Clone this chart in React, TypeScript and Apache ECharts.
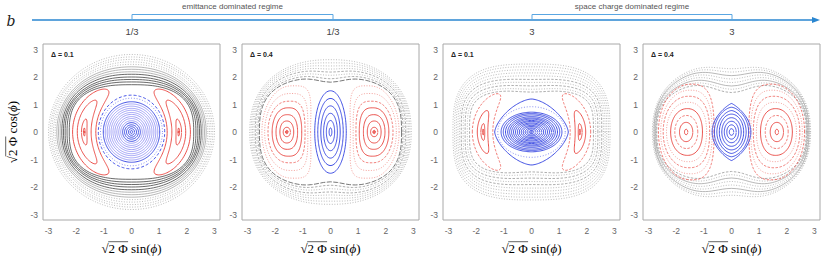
import React, { useEffect, useRef } from 'react';
import * as echarts from 'echarts';

// ---------- labels ----------
const PANEL_DELTA = ['Δ = 0.1', 'Δ = 0.4', 'Δ = 0.1', 'Δ = 0.4'];
const REGIME_LABELS = ['emittance dominated regime', 'space charge dominated regime'];
const REGIME_VALUES = ['1/3', '1/3', '3', '3'];
const X_TITLE = ['√', '2 Φ', ' sin(', 'ϕ', ')'];
const Y_TITLE = ['√', '2 Φ', ' cos(', 'ϕ', ')'];

// ---------- panel 1 (Δ=0.1, 1/3) ----------
const P1_RING_SIDE = [3.0, 2.94, 2.88, 2.82, 2.76, 2.7, 2.64, 2.58, 2.52, 2.46, 2.4, 2.33, 2.25];
const P1_RING_TOP = [2.82, 2.73, 2.64, 2.55, 2.46, 2.37, 2.28, 2.19, 2.1, 2.0, 1.91, 1.82, 1.72];
const P1_RING_SQ = [2.0, 2.0, 2.05, 2.05, 2.1, 2.1, 2.15, 2.2, 2.25, 2.3, 2.4, 2.5, 2.7];
const P1_RING_STYLE = ['kdot', 'kdot', 'kdot', 'kdot', 'kdot', 'klight', 'klight', 'klight', 'ksolid', 'ksolid', 'ksolid', 'ksolid', 'ksolid'];
const P1_BLUE_SIDE = [1.2, 1.12, 1.02, 0.95, 0.88, 0.81, 0.74, 0.67, 0.6, 0.53, 0.46, 0.39, 0.32, 0.25, 0.18, 0.11, 0.05];
const P1_BLUE_TOP = [1.34, 1.23, 1.1, 1.02, 0.94, 0.86, 0.79, 0.71, 0.64, 0.56, 0.49, 0.41, 0.34, 0.26, 0.19, 0.12, 0.05];
const P1_BLUE_STYLE = ['bdash', 'bdot', 'bsolid', 'blight', 'blight', 'blight', 'blight', 'blight', 'blight', 'blight', 'blight', 'blight', 'bsolid', 'bsolid', 'bsolid', 'bsolid', 'bsolid'];
const P1_CRES_RC = [1.71, 1.71, 1.71, 1.71];
const P1_CRES_DR = [0.42, 0.25, 0.1, 0.03];
const P1_CRES_ALPHA = [61, 42, 16, 5];
const P1_CRES_STYLE = ['rsolid', 'rsolid', 'rsolid', 'rsolid'];

// ---------- panel 2 (Δ=0.4, 1/3) ----------
const P2_RING_SIDE = [2.92, 2.87, 2.82, 2.77, 2.72, 2.67, 2.62, 2.57];
const P2_RING_TOP = [2.63, 2.54, 2.45, 2.36, 2.27, 2.17, 2.08, 1.99];
const P2_RING_DIP = [0.0, 0.01, 0.02, 0.03, 0.04, 0.05, 0.07, 0.09];
const P2_RING_STYLE = ['kdot', 'kdot', 'kdot', 'kdot', 'kdash', 'kdot', 'kdash', 'kdark'];
const P2_ISL_IN = [1.53, 1.45, 1.33, 1.19, 1.04, 0.92, 0.82, 0.72];
const P2_ISL_OUT = [1.63, 1.71, 1.83, 1.97, 2.11, 2.26, 2.38, 2.48];
const P2_ISL_H = [0.06, 0.17, 0.4, 0.63, 0.88, 1.12, 1.4, 1.68];
const P2_ISL_SKEW = [0, 0, 0, 0.02, 0.06, 0.12, 0.2, 0.3];
const P2_ISL_STYLE = ['rsolid', 'rsolid', 'rsolid', 'rsolid', 'rsolid', 'rdash', 'rdot', 'rdot'];
const P2_BLUE_SIDE = [0.57, 0.46, 0.35, 0.25, 0.15, 0.05];
const P2_BLUE_TOP = [1.5, 1.22, 0.95, 0.68, 0.42, 0.15];

// ---------- panel 3 (Δ=0.1, 3) ----------
const P3_RING_SIDE = [2.84, 2.78, 2.72, 2.66, 2.6, 2.54, 2.47, 2.4, 2.32, 2.24];
const P3_RING_TOP = [2.47, 2.37, 2.26, 2.15, 2.04, 1.93, 1.82, 1.71, 1.6, 1.51];
const P3_RING_DIP = [0, 0, 0, 0, 0, 0.01, 0.01, 0.02, 0.03, 0.04];
const P3_RING_STYLE = ['kdot', 'kdot', 'kdot', 'kdot', 'kdot', 'kdash', 'kdot', 'kdash', 'kdot', 'kdash'];
const P3_CRES_RC = [1.77, 1.77, 1.76, 1.75];
const P3_CRES_DR = [0.37, 0.19, 0.07, 0.02];
const P3_CRES_ALPHA = [50, 26, 10, 4];
const P3_CRES_STYLE = ['rdash', 'rsolid', 'rsolid', 'rsolid'];
const P3_BLUE_SIDE = [1.33, 1.22, 1.1, 1.02, 0.94, 0.86, 0.79, 0.72, 0.65, 0.58, 0.51, 0.44, 0.37, 0.3, 0.23, 0.16, 0.09, 0.04];
const P3_BLUE_TOP = [1.2, 0.92, 0.72, 0.67, 0.62, 0.56, 0.51, 0.47, 0.42, 0.38, 0.33, 0.29, 0.24, 0.2, 0.15, 0.11, 0.06, 0.03];
const P3_BLUE_STYLE = ['bsolid', 'bdot', 'bsolid', 'bsolid', 'bsolid', 'bsolid', 'bsolid', 'bsolid', 'bsolid', 'bsolid', 'bsolid', 'bsolid', 'bsolid', 'bsolid', 'bsolid', 'bsolid', 'bsolid', 'bsolid'];

// ---------- panel 4 (Δ=0.4, 3) ----------
const P4_RING_SIDE = [2.86, 2.83, 2.8, 2.78, 2.76, 2.74, 2.72, 2.7];
const P4_RING_TOP = [2.5, 2.42, 2.33, 2.24, 2.14, 2.04, 1.94, 1.84];
const P4_RING_DIP = [0.08, 0.1, 0.12, 0.14, 0.16, 0.18, 0.2, 0.22];
const P4_RING_STYLE = ['kdot', 'kdot', 'klight', 'kdot', 'kdot', 'klight', 'kdot', 'kdash'];
const P4_ISL_IN = [1.58, 1.4, 1.22, 1.05, 0.9, 0.79, 0.7, 0.63];
const P4_ISL_OUT = [1.7, 1.88, 2.05, 2.2, 2.35, 2.47, 2.56, 2.64];
const P4_ISL_H = [0.1, 0.35, 0.6, 0.85, 1.08, 1.3, 1.52, 1.74];
const P4_ISL_SKEW = [0, 0, 0.01, 0.03, 0.06, 0.1, 0.15, 0.2];
const P4_ISL_STYLE = ['rsolid', 'rsolid', 'rdash', 'rsolid', 'rdot', 'rdash', 'rdot', 'rdash'];
const P4_BLUE_SIDE = [0.7, 0.62, 0.53, 0.44, 0.35, 0.26, 0.17, 0.08];
const P4_BLUE_TOP = [1.04, 0.9, 0.78, 0.65, 0.52, 0.39, 0.26, 0.12];

// ---------- geometry helpers ----------
const NPTS = 160;
function ring(sx: number, sy: number, nx: number, ny: number, dip: number, dipW: number, cx = 0, skew = 0): number[][] {
  const pts: number[][] = [];
  const side = cx >= 0 ? 1 : -1;
  for (let i = 0; i <= NPTS; i++) {
    const t = (2 * Math.PI * i) / NPTS;
    const c = Math.cos(t), s = Math.sin(t);
    const x = sx * Math.sign(c) * Math.pow(Math.abs(c), 2 / nx);
    const yb = sy * Math.sign(s) * Math.pow(Math.abs(s), 2 / ny);
    const y = yb * (1 - dip * Math.exp(-((x / dipW) ** 2)));
    pts.push([cx + x - side * skew * (yb / sy) ** 2, y]);
  }
  return pts;
}
function crescent(side: number, rc: number, dr: number, alphaDeg: number): number[][] {
  const a = (alphaDeg * Math.PI) / 180;
  const pts: number[][] = [];
  for (let i = 0; i <= NPTS; i++) {
    const t = (2 * Math.PI * i) / NPTS;
    const th = a * Math.sin(t);
    const r = rc + dr * Math.cos(t);
    pts.push([side * r * Math.cos(th), r * Math.sin(th)]);
  }
  return pts;
}

const STYLES: Record<string, any> = {
  kdot: { color: '#ababab', width: 0.8, type: [1, 1.6] },
  kdash: { color: '#999', width: 0.8, type: [2.5, 1.5] },
  kdark: { color: '#555', width: 0.8, type: [5, 1.5] },
  klight: { color: '#999', width: 0.7, type: 'solid' },
  ksolid: { color: '#444', width: 0.8, type: 'solid' },
  rsolid: { color: '#e8403a', width: 0.9, type: 'solid' },
  rdash: { color: '#ec5a54', width: 0.8, type: [2.5, 1.5] },
  rdot: { color: '#f08680', width: 0.8, type: [1, 1.6] },
  bsolid: { color: '#2e3ee0', width: 0.9, type: 'solid' },
  blight: { color: '#8c8cf4', width: 0.8, type: 'solid' },
  bdash: { color: '#3444e4', width: 0.9, type: [3, 2] },
  bdot: { color: '#6a72ee', width: 0.8, type: [1, 1.8] },
};

function line(p: number, data: number[][], style: string) {
  return {
    type: 'line', xAxisIndex: p, yAxisIndex: p, data, showSymbol: false, symbol: 'none',
    silent: true, animation: false, lineStyle: { ...STYLES[style] }, z: 2,
  };
}
function dots(p: number, xs: number[]) {
  return {
    type: 'scatter', xAxisIndex: p, yAxisIndex: p, data: xs.map((x) => [x, 0]), symbolSize: 2.5,
    silent: true, itemStyle: { color: '#e8403a' }, z: 3,
  };
}

function islands(p: number, ins: number[], outs: number[], hs: number[], skews: number[], styles: string[], sq: number, out: any[]) {
  [-1, 1].forEach((side) =>
    ins.forEach((xi, i) => {
      const xo = outs[i];
      out.push(line(p, ring((xo - xi) / 2, hs[i], 2 + i * sq, 2 + i * 0.04, 0, 1, side * (xo + xi) / 2, skews[i]), styles[i]));
    }));
}

function buildSeries() {
  const s: any[] = [];
  // panel 1
  P1_RING_SIDE.forEach((sx, i) => s.push(line(0, ring(sx, P1_RING_TOP[i], P1_RING_SQ[i], P1_RING_SQ[i], 0, 1), P1_RING_STYLE[i])));
  P1_BLUE_SIDE.forEach((sx, i) => s.push(line(0, ring(sx, P1_BLUE_TOP[i], 2, 2, 0, 1), P1_BLUE_STYLE[i])));
  [-1, 1].forEach((side) =>
    P1_CRES_RC.forEach((rc, i) => s.push(line(0, crescent(side, rc, P1_CRES_DR[i], P1_CRES_ALPHA[i]), P1_CRES_STYLE[i]))));
  s.push(dots(0, [-1.71, 1.71]));
  // panel 2
  P2_RING_SIDE.forEach((sx, i) => {
    const n = 2.3 + i * 0.07;
    s.push(line(1, ring(sx, P2_RING_TOP[i], n, n, P2_RING_DIP[i], 0.65), P2_RING_STYLE[i]));
  });
  islands(1, P2_ISL_IN, P2_ISL_OUT, P2_ISL_H, P2_ISL_SKEW, P2_ISL_STYLE, 0.15, s);
  s.push(dots(1, [-1.58, 1.58]));
  P2_BLUE_SIDE.forEach((sx, i) => s.push(line(1, ring(sx, P2_BLUE_TOP[i], 2, 2, 0, 1), 'bsolid')));
  // panel 3
  P3_RING_SIDE.forEach((sx, i) => {
    const n = 3.0 + i * 0.08;
    s.push(line(2, ring(sx, P3_RING_TOP[i], n, n, P3_RING_DIP[i], 0.7), P3_RING_STYLE[i]));
  });
  [-1, 1].forEach((side) =>
    P3_CRES_RC.forEach((rc, i) => s.push(line(2, crescent(side, rc, P3_CRES_DR[i], P3_CRES_ALPHA[i]), P3_CRES_STYLE[i]))));
  P3_BLUE_SIDE.forEach((sx, i) => {
    const nx = i === 0 ? 1.6 : 2, ny = i === 0 ? 1.5 : 2;
    s.push(line(2, ring(sx, P3_BLUE_TOP[i], nx, ny, 0, 1), P3_BLUE_STYLE[i]));
  });
  // panel 4
  P4_RING_SIDE.forEach((sx, i) => {
    const n = 2.3 + i * 0.05;
    s.push(line(3, ring(sx, P4_RING_TOP[i], n, n, P4_RING_DIP[i], 0.9), P4_RING_STYLE[i]));
  });
  islands(3, P4_ISL_IN, P4_ISL_OUT, P4_ISL_H, P4_ISL_SKEW, P4_ISL_STYLE, 0.06, s);
  P4_BLUE_SIDE.forEach((sx, i) => {
    const nx = i === 0 ? 1.15 : i < 3 ? 1.6 : 2;
    s.push(line(3, ring(sx, P4_BLUE_TOP[i], nx, 2, 0, 1), 'bsolid'));
  });
  return s;
}

const GRID_LEFT = [43, 242, 443, 643];
const GRID_W = 177;
const GRID_TOP = 44;
const GRID_H = 176;
const TITLE_FONT = 13;
const TITLE_FAMILY = 'Liberation Serif';

function intLabel(v: number) {
  return Math.abs(v - Math.round(v)) < 1e-6 ? String(Math.round(v)) : '';
}

function txt(text: string, x: number, y: number, font: string, fill: string, align = 'center') {
  return {
    type: 'text', x, y, silent: true, z: 10,
    style: { text, font, fill, align, verticalAlign: 'middle', textAlign: align, textVerticalAlign: 'middle' },
  };
}

let measureCtx: CanvasRenderingContext2D | null = null;
function measure(text: string, italic = false) {
  if (!measureCtx) measureCtx = document.createElement('canvas').getContext('2d');
  if (!measureCtx) return text.length * 6;
  measureCtx.font = `${italic ? 'italic ' : ''}${TITLE_FONT}px "${TITLE_FAMILY}"`;
  return measureCtx.measureText(text).width;
}

function mathTitle(parts: string[], x: number, y: number, rotation: number) {
  const widths = parts.map((p, i) => measure(p, i === 3));
  const total = widths.reduce((a, b) => a + b, 0);
  const x0 = -total / 2 + widths[0] - 0.3;
  const x1 = x0 + widths[1] + 0.6;
  const rich = {
    a: { fontFamily: TITLE_FAMILY, fontSize: TITLE_FONT, color: '#222' },
    i: { fontFamily: TITLE_FAMILY, fontStyle: 'italic', fontSize: TITLE_FONT, color: '#222' },
  };
  return {
    type: 'group', x, y, rotation, silent: true, z: 10,
    children: [
      {
        type: 'text', x: 0, y: 0, z: 10,
        style: {
          text: `{a|${parts[0]}${parts[1]}${parts[2]}}{i|${parts[3]}}{a|${parts[4]}}`, rich,
          align: 'center', verticalAlign: 'middle', textAlign: 'center', textVerticalAlign: 'middle',
        },
      },
      { type: 'line', z: 10, shape: { x1: x0, y1: -6.3, x2: x1, y2: -6.3 }, style: { stroke: '#222', lineWidth: 0.7 } },
    ],
  };
}

export default function App() {
  const ref = useRef<HTMLDivElement>(null);
  useEffect(() => {
    if (!ref.current) return;
    const chart = echarts.init(ref.current, undefined, { renderer: 'svg' });
    const grids = GRID_LEFT.map((l) => ({
      left: l, top: GRID_TOP, width: GRID_W, height: GRID_H, show: true,
      borderColor: '#a8a8a8', borderWidth: 1, backgroundColor: '#fff',
    }));
    const axisCommon = {
      type: 'value', min: -3.2, max: 3.2, splitLine: { show: false },
      axisLine: { show: false }, axisTick: { show: false },
      axisLabel: { formatter: intLabel, fontSize: 8.5, color: '#666', fontFamily: 'Liberation Sans' },
    };
    const xAxis = GRID_LEFT.map((_, i) => ({ ...axisCommon, gridIndex: i, axisLabel: { ...axisCommon.axisLabel, margin: 6 } }));
    const yAxis = GRID_LEFT.map((_, i) => ({ ...axisCommon, gridIndex: i, axisLabel: { ...axisCommon.axisLabel, margin: 5 } }));

    const graphic: any[] = [];
    graphic.push({ type: 'line', silent: true, shape: { x1: 32, y1: 20, x2: 814, y2: 20 }, style: { stroke: '#2a86d0', lineWidth: 1.3 } });
    graphic.push({ type: 'polygon', silent: true, shape: { points: [[820, 20], [812, 17], [812, 23]] }, style: { fill: '#2a86d0' } });
    [[132, 333], [532, 732]].forEach(([a, b], k) => {
      graphic.push({ type: 'polyline', silent: true, shape: { points: [[a, 20], [a, 14.5], [b, 14.5], [b, 20]] }, style: { stroke: '#5aa6e2', lineWidth: 1, fill: null } });
      graphic.push(txt(REGIME_LABELS[k], (a + b) / 2, 6, '8px "Liberation Sans"', '#555'));
    });
    [132, 333, 532, 732].forEach((x, k) => graphic.push(txt(REGIME_VALUES[k], x, 31.5, '9.5px "Liberation Sans"', '#444')));
    graphic.push(txt('b', 11, 21, 'italic 14px "DejaVu Serif"', '#222'));
    GRID_LEFT.forEach((l, k) => graphic.push(txt(PANEL_DELTA[k], l + 8, 54, 'bold 7px "Liberation Sans"', '#222', 'left')));
    GRID_LEFT.forEach((l) => graphic.push(mathTitle(X_TITLE, l + GRID_W / 2, 248, 0)));
    graphic.push(mathTitle(Y_TITLE, 12, 132, Math.PI / 2));

    chart.setOption({
      animation: false,
      backgroundColor: '#fff',
      grid: grids,
      xAxis,
      yAxis,
      series: buildSeries(),
      graphic,
    });
    return () => chart.dispose();
  }, []);
  return <div ref={ref} style={{ position: 'fixed', left: 0, top: 0, width: 830, height: 258 }} />;
}
